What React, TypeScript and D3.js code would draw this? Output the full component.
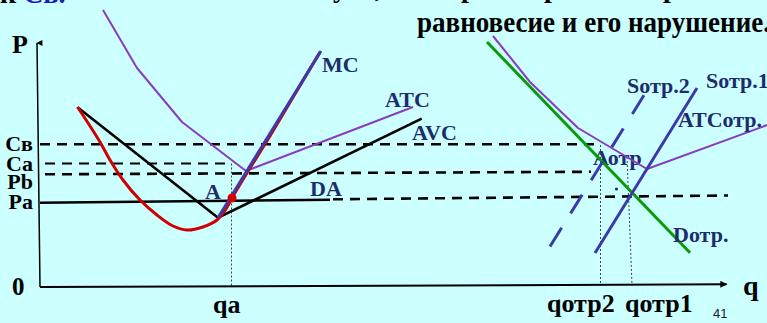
import React from 'react';
import * as d3 from 'd3';

const W = 767;
const H = 323;

type Pt = [number, number];

// ---------- data (q = quantity units, P = price units) ----------
const atcFirm: Pt[] = [[31.5, 138.5], [48.5, 109.5], [71, 82.5], [103, 58], [186.5, 90]];
const avcFirm: Pt[] = [[18.75, 89.85], [89, 34.65], [190.85, 84.15]];
const mcFirm: Pt[] = [
  [18.75, 90], [25, 80.5], [30, 72.5], [35, 63.5], [41.5, 53.5], [50, 43.5], [58.5, 36],
  [66.5, 30.5], [73.5, 28.5], [81.5, 30], [88.5, 33.5], [93, 39], [96, 44.5],
  [103.5, 57], [115, 75.5], [127.5, 96.5], [140, 117.5],
];
const supplyFirm: Pt[] = [[89, 34.65], [140.5, 118]];
const pointA: Pt = [96, 44.5];

const demandInd: Pt[] = [[223.5, 122.5], [325, 17.15]];
const atcInd: Pt[] = [[226.5, 125.5], [245, 102.5], [269, 79.5], [303.5, 59], [365, 81.5]];
const supplyInd1: Pt[] = [[277.5, 17], [328.5, 99.5]];
const supplyInd2: Pt[] = [[255, 20.25], [303, 97.5]];
const smallDot: Pt = [288.25, 49];

const priceCb: Pt[] = [[0, 71.35], [280, 71.35]];
const priceCa: Pt[] = [[2.5, 61.75], [96, 61.75]];
const pricePb: Pt[] = [[2.5, 56.35], [275.5, 57.6]];
const pricePaSolid: Pt[] = [[0, 42.15], [145, 43.6]];
const pricePaDashed: Pt[] = [[146.5, 43.85], [344, 45.75]];

const dropQa: Pt[] = [[95.75, 61.75], [95.75, 0]];
const dropQ2: Pt[] = [[280.25, 71], [280.25, 0.75]];
const dropQ1: Pt[] = [[293.5, 65], [296, 1]];

const yAxisPts: Pt[] = [[0, 0], [-1.5, 122]];
const xAxisPts: Pt[] = [[0, 0], [343.3, 1.35]];

const axisLabels: { t: string; q: number; p: number; anchor: string; size: number }[] = [
  { t: 'P', q: -14, p: 117, anchor: 'start', size: 26 },
  { t: '0', q: -14, p: -4, anchor: 'start', size: 25 },
  { t: 'Св', q: -3.5, p: 68, anchor: 'end', size: 22 },
  { t: 'Ca', q: -3.5, p: 58, anchor: 'end', size: 22 },
  { t: 'Pb', q: -3.5, p: 49, anchor: 'end', size: 22 },
  { t: 'Pa', q: -3.5, p: 39, anchor: 'end', size: 22 },
  { t: 'qa', q: 86.5, p: -13, anchor: 'start', size: 26 },
  { t: 'qотр2', q: 253.5, p: -12.5, anchor: 'start', size: 26 },
  { t: 'qотр1', q: 292.5, p: -12.5, anchor: 'start', size: 26 },
  { t: 'q', q: 351.5, p: -4, anchor: 'start', size: 28 },
];

const curveLabels: { t: string; q: number; p: number }[] = [
  { t: 'MC', q: 141, p: 107.5 },
  { t: 'ATC', q: 172.5, p: 90 },
  { t: 'AVC', q: 186, p: 73.5 },
  { t: 'A', q: 82.5, p: 44 },
  { t: 'DA', q: 135, p: 45.5 },
  { t: 'Sотр.2', q: 293.5, p: 97 },
  { t: 'Sотр.1', q: 333, p: 99.5 },
  { t: 'АТСотр.', q: 319, p: 80 },
  { t: 'Dотр.', q: 316.5, p: 22.5 },
];
const labelAotr = { t: 'Аотр', q: 276.5, p: 61 };

// ---------- scales ----------
const x = d3.scaleLinear().domain([0, 343]).range([40, 726]);
const y = d3.scaleLinear().domain([0, 122]).range([287, 43]);

const line = d3.line<Pt>().x((d) => x(d[0])).y((d) => y(d[1]));
const smooth = d3
  .line<Pt>()
  .x((d) => x(d[0]))
  .y((d) => y(d[1]))
  .curve(d3.curveCatmullRom.alpha(0.5));

const SERIF = '"Liberation Serif", "Times New Roman", serif';
const BG = '#CCFFFF';
const PURPLE = '#8A3CC0';
const BLUE = '#3C3AAA';
const NAVY = '#1C2C6C';
const RED = '#D00000';
const GREEN = '#0A990A';

export default function App() {
  return (
    <div style={{ position: 'fixed', left: 0, top: 0, width: W, height: H }}>
      <svg width={W} height={H} style={{ display: 'block' }}>
        <defs>
          <marker id="arrUp" viewBox="0 0 10 10" refX="5" refY="1" markerWidth="6" markerHeight="8" orient="auto-start-reverse" markerUnits="userSpaceOnUse">
            <path d="M0,10 L5,0 L10,10 Z" fill="#000" />
          </marker>
          <marker id="arrRight" viewBox="0 0 10 10" refX="9" refY="5" markerWidth="9" markerHeight="7" orient="auto" markerUnits="userSpaceOnUse">
            <path d="M0,0 L10,5 L0,10 Z" fill="#000" />
          </marker>
        </defs>
        <rect x={0} y={0} width={W} height={H} fill={BG} />

        {/* header text (cut at top) */}
        <g fontFamily={SERIF} fontWeight="bold" fontSize={28}>
          <text x={0} y={2.5}>
            <tspan fill="#000">к </tspan>
            <tspan fill="#1a1ac8">Св.</tspan>
          </text>
          <text x={333} y={-3} fill="#000">у</text>
          <text x={375} y={-3} fill="#000">,</text>
          <text x={461} y={-3} fill="#000">р</text>
          <text x={544} y={-3} fill="#000">р</text>
          <text x={663} y={-3} fill="#000">р</text>
          <text x={417} y={32} fontSize={30} fill="#000" textLength={353} lengthAdjust="spacingAndGlyphs">
            равновесие и его нарушение.
          </text>
        </g>

        {/* label drawn under lines */}
        <text x={x(labelAotr.q)} y={y(labelAotr.p)} fontFamily={SERIF} fontWeight="bold" fontSize={22} fill={NAVY}>
          {labelAotr.t}
        </text>

        {/* price level dashed lines */}
        <g fill="none" stroke="#000" strokeWidth={2.6} strokeDasharray="10,7">
          <path d={line(priceCb)!} />
          <path d={line(priceCa)!} strokeWidth={2.2} />
          <path d={line(pricePb)!} />
          <path d={line(pricePaDashed)!} />
        </g>

        {/* quantity dotted drops */}
        <g fill="none" stroke="#444" strokeWidth={1} strokeDasharray="2,2">
          <path d={line(dropQa)!} />
          <path d={line(dropQ2)!} />
          <path d={line(dropQ1)!} />
        </g>

        {/* axes */}
        <path d={line(yAxisPts)!} stroke="#000" strokeWidth={1.5} fill="none" markerEnd="url(#arrUp)" />
        <path d={line(xAxisPts)!} stroke="#000" strokeWidth={2} fill="none" markerEnd="url(#arrRight)" />

        {/* firm */}
        <path d={line(atcFirm)!} fill="none" stroke={PURPLE} strokeWidth={2} strokeLinejoin="round" />
        <path d={line(avcFirm)!} fill="none" stroke="#000" strokeWidth={2.6} strokeLinejoin="miter" />
        <path d={line(pricePaSolid)!} fill="none" stroke="#000" strokeWidth={2.6} />
        <path d={smooth(mcFirm)!} fill="none" stroke={RED} strokeWidth={3} />
        <path d={line(supplyFirm)!} fill="none" stroke={BLUE} strokeWidth={3} />
        <circle cx={x(pointA[0])} cy={y(pointA[1])} r={4.5} fill={RED} />

        {/* industry */}
        <path d={line(atcInd)!} fill="none" stroke={PURPLE} strokeWidth={2} strokeLinejoin="round" />
        <path d={line(demandInd)!} fill="none" stroke={GREEN} strokeWidth={3} />
        <path d={line(supplyInd1)!} fill="none" stroke={BLUE} strokeWidth={3} />
        <path d={line(supplyInd2)!} fill="none" stroke={BLUE} strokeWidth={3} strokeDasharray="22,17" />
        <circle cx={x(smallDot[0])} cy={y(smallDot[1])} r={1.6} fill={NAVY} />

        {/* labels */}
        <g fontFamily={SERIF} fontWeight="bold">
          {axisLabels.map((l) => (
            <text key={l.t} x={x(l.q)} y={y(l.p)} textAnchor={l.anchor as any} fontSize={l.size} fill="#000">
              {l.t}
            </text>
          ))}
          {curveLabels.map((l) => (
            <text key={l.t} x={x(l.q)} y={y(l.p)} fontSize={22} fill={NAVY}>
              {l.t}
            </text>
          ))}
        </g>
        <text x={x(336.5)} y={y(-15.5)} fontFamily='"Liberation Sans", Arial, sans-serif' fontSize={13} fill="#222">
          41
        </text>
      </svg>
    </div>
  );
}
